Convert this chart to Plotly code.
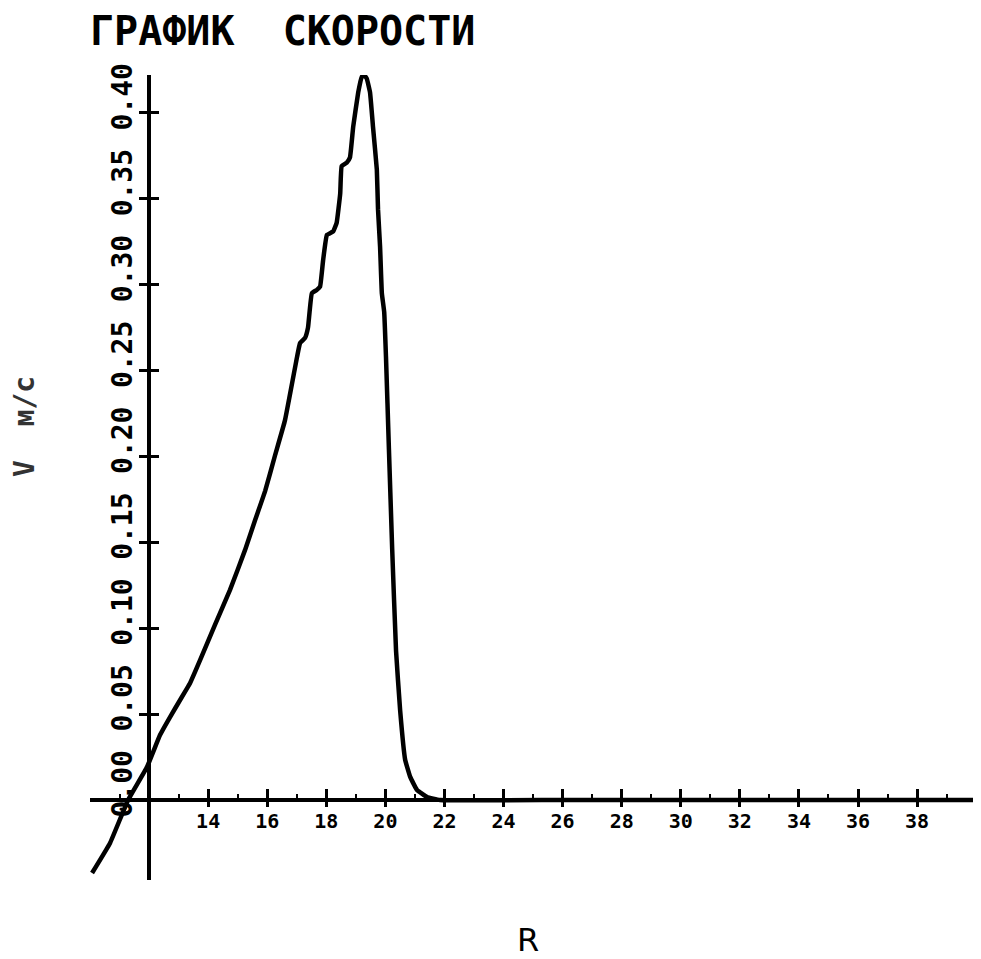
import plotly.graph_objects as go

# ---- data ----
R = [10.07, 10.68, 11.29, 11.93, 12.37, 12.71, 13.05, 13.39, 13.73, 14.23,
     14.74, 15.25, 15.59, 15.93, 16.27, 16.60, 17.01, 17.11, 17.28, 17.38,
     17.51, 17.68, 17.79, 17.89, 18.02, 18.23, 18.35, 18.47, 18.52, 18.69,
     18.80, 18.91, 19.08, 19.20, 19.28, 19.37, 19.48, 19.58, 19.71, 19.75,
     19.82, 19.88, 19.96, 20.02, 20.12, 20.23, 20.36, 20.50, 20.67, 20.84,
     21.07, 21.41, 21.85, 26.0, 32.0, 39.96]
V = [-0.0425, -0.025, 0.0, 0.0192, 0.0378, 0.0483, 0.0582, 0.0681, 0.0815, 0.1019,
     0.1223, 0.1456, 0.163, 0.180, 0.201, 0.221, 0.258, 0.266, 0.269, 0.275,
     0.295, 0.297, 0.299, 0.314, 0.329, 0.331, 0.336, 0.353, 0.369, 0.371,
     0.374, 0.392, 0.412, 0.421, 0.422, 0.420, 0.412, 0.392, 0.367, 0.344,
     0.322, 0.295, 0.284, 0.258, 0.204, 0.146, 0.087, 0.052, 0.0233, 0.0134,
     0.0058, 0.0017, 0.0, 0.0, 0.0, 0.0]

x_tick_vals = [14, 16, 18, 20, 22, 24, 26, 28, 30, 32, 34, 36, 38]
x_tick_text = ["14", "16", "18", "20", "22", "24", "26", "28", "30", "32", "34", "36", "38"]
y_tick_vals = [0.0, 0.05, 0.10, 0.15, 0.20, 0.25, 0.30, 0.35, 0.40]
y_tick_text = ["0.00", "0.05", "0.10", "0.15", "0.20", "0.25", "0.30", "0.35", "0.40"]

title_text = "ГРАФИК  СКОРОСТИ"
y_title = "V  м/с"
x_title = "R"

x_range = [10.0, 39.96]
y_range = [-0.0466, 0.4221]
x_origin = 12.0
y_origin = 0.0

MONO = "DejaVu Sans Mono"
INK = "#000000"
OFF = 8  # page body margin

W, H = 981 - OFF, 959 - OFF

ypos = (x_origin - x_range[0]) / (x_range[1] - x_range[0])
xpos = (y_origin - y_range[0]) / (y_range[1] - y_range[0])

fig = go.Figure()
fig.add_trace(go.Scatter(x=R, y=V, mode="lines",
                         line=dict(color=INK, width=4.5, shape="spline", smoothing=0.3),
                         hoverinfo="skip", showlegend=False))
# invisible helper trace on the overlay axes (second set of tick marks)
fig.add_trace(go.Scatter(x=R, y=V, mode="lines", xaxis="x2", yaxis="y2",
                         line=dict(color="rgba(0,0,0,0)", width=0),
                         hoverinfo="skip", showlegend=False))

fig.update_layout(
    width=W, height=H,
    margin=dict(l=90 - OFF, r=W - (975 - OFF), t=75 - OFF, b=H - (880 - OFF)),
    paper_bgcolor="white", plot_bgcolor="white",
    showlegend=False,
    xaxis=dict(range=x_range, domain=[0, 1], anchor="free", position=xpos,
               showgrid=False, zeroline=False, showline=True, linecolor=INK, linewidth=4,
               tickmode="array", tickvals=x_tick_vals, ticktext=x_tick_text,
               ticks="outside", ticklen=5, tickwidth=3, tickcolor=INK,
               ticklabelstandoff=-3,
               tickfont=dict(family=MONO, size=20, color=INK, weight="bold"),
               automargin=False),
    yaxis=dict(range=y_range, domain=[0, 1], anchor="free", position=ypos,
               showgrid=False, zeroline=False, showline=True, linecolor=INK, linewidth=4,
               tickmode="array", tickvals=y_tick_vals, ticktext=y_tick_text,
               ticks="outside", ticklen=8, tickwidth=3, tickcolor=INK,
               tickangle=-90, ticklabelshift=-12, ticklabelstandoff=-4,
               tickfont=dict(family=MONO, size=28, color=INK, weight="bold"),
               automargin=False),
    xaxis2=dict(matches="x", overlaying="x", anchor="free", position=xpos,
                showgrid=False, zeroline=False, showline=False,
                tickmode="array", tickvals=x_tick_vals, showticklabels=False,
                ticks="inside", ticklen=11, tickwidth=3, tickcolor=INK,
                minor=dict(dtick=1, tick0=11, ticks="inside", ticklen=6, tickwidth=2,
                           tickcolor=INK, showgrid=False),
                automargin=False),
    yaxis2=dict(matches="y", overlaying="y", anchor="free", position=ypos,
                showgrid=False, zeroline=False, showline=False,
                tickmode="array", tickvals=y_tick_vals, showticklabels=False,
                ticks="inside", ticklen=9, tickwidth=3, tickcolor=INK,
                automargin=False),
)

# title as an annotation, placed above the plot area
fig.add_annotation(text=title_text, xref="paper", yref="paper",
                   x=(88 - 90) / 885, y=(880 - 31.5) / 805,
                   showarrow=False, xanchor="left", yanchor="middle",
                   font=dict(family=MONO, size=40, color=INK, weight="bold"))
fig.add_annotation(text=y_title, xref="paper", yref="paper",
                   x=(24 - 90) / 885, y=(880 - 427) / 805, textangle=-90,
                   showarrow=False, xanchor="center", yanchor="middle",
                   font=dict(family=MONO, size=28, color="#333333", weight="bold"))
fig.add_annotation(text=x_title, xref="paper", yref="paper",
                   x=(528 - 90) / 885, y=(880 - 940) / 805,
                   showarrow=False, xanchor="center", yanchor="middle",
                   font=dict(family="DejaVu Sans", size=32, color=INK))

fig.write_html("out.html")
